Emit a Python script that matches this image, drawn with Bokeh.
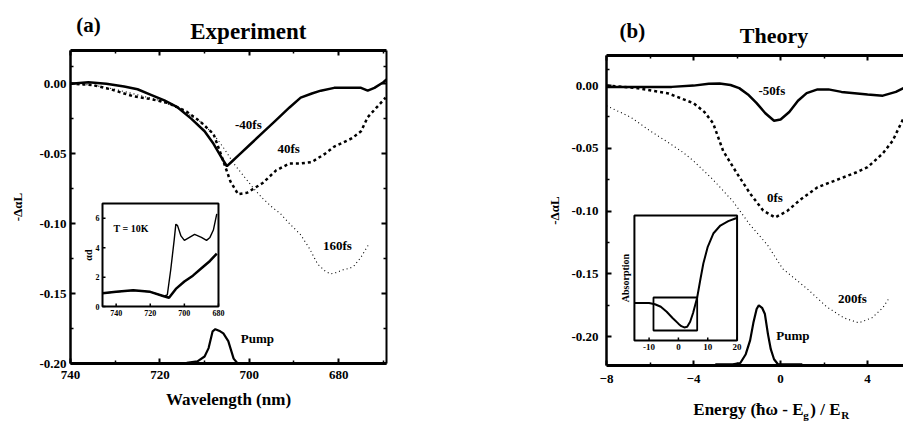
import math
from bokeh.plotting import figure
from bokeh.models import (Range1d, LinearAxis, FixedTicker, Label,
                          PrintfTickFormatter, CustomJSTickFormatter)
from bokeh.layouts import row, column
from bokeh.core.properties import value
from bokeh.embed import file_html
from bokeh.resources import INLINE

FONT = "Liberation Serif"

# ---------------- Panel (a): Experiment ----------------
a_yticks = [0.0, -0.05, -0.10, -0.15, -0.20]
a_yminor = [0.0125, -0.025, -0.075, -0.125, -0.175]
a_xticks = [740, 720, 700, 680]
a_xminor = [730, 710, 690, 670]

wl_m40 = [740, 736, 732, 728, 725, 722, 719, 716, 713, 710, 708, 706, 705, 704, 702, 700,
          697, 694, 691, 688.5, 686, 684, 681, 678, 675, 673.5, 672, 670, 669.3]
val_m40 = [0.000, 0.001, 0.000, -0.002, -0.004, -0.008, -0.012, -0.017, -0.025, -0.034, -0.043,
           -0.054, -0.059, -0.056, -0.050, -0.044, -0.035, -0.026, -0.017, -0.010, -0.007,
           -0.005, -0.003, -0.003, -0.003, -0.005, -0.003, 0.001, 0.003]

wl_40 = [740, 735, 731, 726, 722, 718, 714, 711, 708, 706.4, 704.2, 702.5, 700.5, 699, 697,
         694, 691, 688.5, 686, 683, 681, 679, 677, 675, 673.5, 671.5, 669.5]
val_40 = [0.000, -0.001, -0.004, -0.009, -0.011, -0.014, -0.020, -0.027, -0.036, -0.050, -0.070,
          -0.079, -0.078, -0.075, -0.071, -0.062, -0.057, -0.057, -0.056, -0.050, -0.045, -0.042,
          -0.039, -0.034, -0.024, -0.017, -0.010]

wl_160 = [740, 735, 730, 725, 720, 715, 711, 708, 705.5, 703.5, 701, 699, 697, 695, 693, 691,
          688.5, 686.5, 684.7, 683, 681.8, 680.5, 679, 677.5, 676.5, 675, 673.3]
val_160 = [0.000, -0.001, -0.004, -0.008, -0.012, -0.019, -0.027, -0.036, -0.047, -0.057, -0.067,
           -0.075, -0.082, -0.088, -0.093, -0.100, -0.108, -0.118, -0.129, -0.134, -0.136, -0.135,
           -0.133, -0.132, -0.130, -0.124, -0.115]

pump_a_wl = [722, 714, 711.6, 710, 709.1, 708.2, 707.6, 706.5, 705.8, 704.7, 703.5, 702.6, 698]
pump_a_val = [-0.200, -0.1995, -0.1985, -0.195, -0.189, -0.177, -0.1755, -0.177, -0.1785,
              -0.184, -0.1965, -0.200, -0.200]

a_labels = ["-40fs", "40fs", "160fs", "Pump"]
a_label_x = [700.2, 691.2, 680.3, 698.2]
a_label_y = [-0.029, -0.046, -0.116, -0.182]

# inset (a): absorption spectrum (alpha d vs wavelength)
ia_xlim = (748, 680)
ia_ylim = (0, 7)
ia_xticks = [740, 720, 700, 680]
ia_xtick_labels = ["740", "720", "700", "680"]
ia_yticks = [0, 2, 4, 6]
ia_ytick_labels = ["0", "2", "4", "6"]
ia_wl_hi = [748, 740, 730, 720, 712, 710, 708, 706, 705, 704, 702, 700, 697, 694, 690, 687, 685, 683, 681]
ia_ad_hi = [0.9, 1.0, 1.1, 1.0, 0.7, 0.8, 2.5, 4.5, 5.6, 5.5, 4.8, 4.5, 4.7, 4.9, 4.7, 4.5, 4.7, 5.2, 6.3]
ia_wl_lo = [748, 740, 730, 720, 712, 709, 705, 700, 695, 690, 685, 681]
ia_ad_lo = [0.9, 1.0, 1.1, 1.0, 0.7, 0.6, 1.2, 1.7, 2.1, 2.6, 3.1, 3.6]

# ---------------- Panel (b): Theory ----------------
b_yticks = [0.0, -0.05, -0.10, -0.15, -0.20]
b_yminor = [0.0125, -0.025, -0.075, -0.125, -0.175]
b_xticks = [-8, -4, 0, 4, 8]
b_xminor = [-6, -2, 2, 6]

m50_x = [-8, -7, -6, -5, -4, -3.3, -2.8, -2.3, -1.9, -1.5, -1.1, -0.7, -0.3, 0.0, 0.4, 0.8,
         1.2, 1.7, 2.2, 2.8, 3.4, 4.0, 4.7, 5.3, 5.65]
m50_y = [-0.001, -0.001, -0.001, -0.001, 0.000, 0.0015, 0.0017, 0.0005, -0.002, -0.007, -0.014,
         -0.022, -0.028, -0.027, -0.021, -0.012, -0.006, -0.003, -0.003, -0.005, -0.006, -0.007,
         -0.008, -0.005, -0.002]

zero_x = [-8, -6.6, -5.2, -4.0, -3.5, -3.1, -2.64, -2.0, -1.4, -0.8, -0.25, 0.3, 0.9, 1.7, 2.3,
          2.9, 3.5, 4.0, 4.7, 5.15, 5.65]
zero_y = [0.000, -0.002, -0.006, -0.014, -0.021, -0.030, -0.052, -0.070, -0.086, -0.0995, -0.105,
          -0.100, -0.091, -0.081, -0.077, -0.073, -0.069, -0.065, -0.054, -0.044, -0.026]

t200_x = [-8, -7.4, -6.9, -6.0, -5.1, -4.5, -4.0, -3.1, -2.2, -1.4, -0.6, 0.1, 0.6, 1.3, 2.1,
          2.9, 3.6, 4.2, 4.7, 5.0]
t200_y = [-0.016, -0.021, -0.025, -0.036, -0.046, -0.053, -0.060, -0.075, -0.092, -0.111, -0.127,
          -0.146, -0.153, -0.163, -0.176, -0.185, -0.189, -0.185, -0.177, -0.169]

pump_b_x = [-3.0, -2.2, -1.85, -1.6, -1.4, -1.25, -1.1, -1.0, -0.85, -0.72, -0.58, -0.45, -0.3,
            -0.12, 0.1, 1.0]
pump_b_y = [-0.222, -0.222, -0.221, -0.214, -0.203, -0.189, -0.178, -0.175, -0.177, -0.182,
            -0.198, -0.210, -0.218, -0.222, -0.222, -0.222]

b_labels = ["-50fs", "0fs", "200fs", "Pump"]
b_label_x = [-0.40, -0.26, 3.3, 0.57]
b_label_y = [-0.004, -0.089, -0.170, -0.199]

# inset (b): model absorption
ib_xlim = (-15, 20)
ib_ylim = (0, 1)
ib_xticks = [-10, 0, 10, 20]
ib_xtick_labels = ["-10", "0", "10", "20"]
ib_x = [-15, -12, -10, -8, -6, -4, -2, 0, 1, 2, 3, 4, 5, 6.4, 7.5, 8.5, 10, 11.9, 14.3, 17, 19.4, 20]
ib_y = [0.30, 0.30, 0.30, 0.29, 0.27, 0.23, 0.18, 0.135, 0.115, 0.105, 0.11, 0.15, 0.22, 0.344,
        0.49, 0.616, 0.75, 0.856, 0.92, 0.955, 0.976, 0.98]
ib_box = [-8.5, 6.4, 0.08, 0.344]  # left, right, bottom, top of the zoomed window


def style_axis(ax, ticks, minor, show_labels=True, lw=2.5, size="13px", standoff=6):
    ax.ticker = FixedTicker(ticks=ticks, minor_ticks=minor)
    ax.axis_line_width = lw
    ax.axis_line_color = "black"
    ax.major_tick_in = 5
    ax.major_tick_out = 0
    ax.minor_tick_in = 3
    ax.minor_tick_out = 0
    ax.major_tick_line_width = 2
    ax.minor_tick_line_width = 1.5
    ax.major_label_text_font = FONT
    ax.major_label_text_font_style = "bold"
    ax.major_label_text_font_size = size
    ax.major_label_text_color = "black"
    ax.major_label_standoff = standoff
    ax.axis_label_text_font = FONT
    ax.axis_label_text_font_style = "bold"
    ax.axis_label_text_color = "black"
    if not show_labels:
        ax.formatter = CustomJSTickFormatter(code="return ''")
        ax.major_label_text_font_size = "0px"
        ax.major_label_standoff = 0


def base_fig(xr, yr, w, h, bl, br, bt, bb, axes=True):
    kw = {}
    if not axes:
        kw = dict(x_axis_type=None, y_axis_type=None)
    p = figure(x_range=xr, y_range=yr, width=w, height=h, output_backend="svg",
               toolbar_location=None, min_border_left=bl, min_border_right=br,
               min_border_top=bt, min_border_bottom=bb, **kw)
    p.xgrid.visible = False
    p.ygrid.visible = False
    p.outline_line_color = None
    return p


def add_label(p, x, y, text, size, style="bold", align="center", **kw):
    p.add_layout(Label(x=x, y=y, text=text, text_font=FONT, text_font_size=size,
                       text_font_style=style, text_align=align, text_baseline="middle",
                       text_color="black", **kw))


def gtext(p, x, y, texts, size, style="bold", align="center", baseline="middle", **kw):
    p.text(x=x, y=y, text=texts, text_font=value(FONT), text_font_size=size,
           text_font_style=style, text_align=align, text_baseline=baseline,
           text_color="black", **kw)


def draw_inset(sub, xlim, ylim, wpx, hpx, xticks, xlabels, yticks, ylabels, ylabel, size):
    # frame
    sub.quad(left=[xlim[0]], right=[xlim[1]], bottom=[ylim[0]], top=[ylim[1]],
             fill_alpha=0, line_color="black", line_width=2)
    # inward ticks (3 px)
    dy = (ylim[1] - ylim[0]) * 3.0 / hpx
    dx = (xlim[1] - xlim[0]) * 3.0 / wpx
    sub.segment(x0=xticks, y0=[ylim[0]] * len(xticks), x1=xticks,
                y1=[ylim[0] + dy] * len(xticks), line_color="black", line_width=1.5)
    if yticks:
        sub.segment(x0=[xlim[0]] * len(yticks), y0=yticks, x1=[xlim[0] + dx] * len(yticks),
                    y1=yticks, line_color="black", line_width=1.5)
        gtext(sub, [xlim[0]] * len(yticks), yticks, ylabels, size, align="right", x_offset=-3)
    gtext(sub, xticks, [ylim[0]] * len(xticks), xlabels, size, baseline="top", y_offset=3)
    gtext(sub, [xlim[0]], [(ylim[0] + ylim[1]) / 2], [ylabel], "10px",
          angle=math.pi / 2, x_offset=-14 if yticks else -9)


# ---------- panel (a) ----------
xr_a = Range1d(740, 669.3)
title_a = base_fig(xr_a, Range1d(0, 1), 452, 48, 70, 66, 0, 0, axes=False)
gtext(title_a, [736.0], [0.5], ["(a)"], "21px")
gtext(title_a, [700.2], [0.354], ["Experiment"], "23px")

pa = base_fig(xr_a, Range1d(-0.2, 0.0237), 452, 373, 70, 66, 2, 58)
style_axis(pa.yaxis[0], a_yticks, a_yminor, lw=2.5, standoff=4)
pa.yaxis[0].formatter = PrintfTickFormatter(format="%.2f")
pa.yaxis[0].axis_label = "-ΔαL"
pa.yaxis[0].axis_label_text_font_size = "13px"
pa.yaxis[0].axis_label_standoff = 11
style_axis(pa.xaxis[0], a_xticks, a_xminor, lw=3, standoff=7)
pa.xaxis[0].axis_label = "Wavelength (nm)"
pa.xaxis[0].axis_label_text_font_size = "17px"
pa.xaxis[0].axis_label_standoff = 8
top_a = LinearAxis()
style_axis(top_a, a_xticks, a_xminor, show_labels=False, lw=3)
pa.add_layout(top_a, "above")
right_a = LinearAxis()
style_axis(right_a, a_yticks, a_yminor, show_labels=False, lw=2)
pa.add_layout(right_a, "right")

pa.line(wl_m40, val_m40, line_color="black", line_width=2.5)
pa.line(wl_40, val_40, line_color="black", line_width=2.5, line_dash="3 3")
pa.line(wl_160, val_160, line_color="black", line_width=1.1, line_dash="1 3")
pa.line(pump_a_wl, pump_a_val, line_color="black", line_width=2.2)
for t, x, y in zip(a_labels, a_label_x, a_label_y):
    add_label(pa, x, y, t, "13px")

sub_a = pa.subplot(x_source=Range1d(*ia_xlim), y_source=Range1d(*ia_ylim),
                   x_target=Range1d(732.84, 706.89), y_target=Range1d(-0.1593, -0.0857))
draw_inset(sub_a, ia_xlim, ia_ylim, 116, 103, ia_xticks, ia_xtick_labels,
           ia_yticks, ia_ytick_labels, "αd", "8px")
sub_a.line(ia_wl_hi, ia_ad_hi, line_color="black", line_width=1.4)
sub_a.line(ia_wl_lo, ia_ad_lo, line_color="black", line_width=2.5)
gtext(sub_a, [741.5], [5.3], ["T = 10K"], "10px", align="left")

# ---------- panel (b) ----------
xr_b = Range1d(-8, 5.65)
title_b = base_fig(xr_b, Range1d(0, 1), 451, 50, 154, 0, 0, 0, axes=False)
gtext(title_b, [-6.81], [0.4], ["(b)"], "21px")
gtext(title_b, [-0.30], [0.3], ["Theory"], "22px")

pb = base_fig(xr_b, Range1d(-0.223, 0.024), 451, 345, 154, 0, 5, 30)
style_axis(pb.yaxis[0], b_yticks, b_yminor, lw=2.5, standoff=8)
pb.yaxis[0].formatter = PrintfTickFormatter(format="%.2f")
pb.yaxis[0].axis_label = "-ΔαL"
pb.yaxis[0].axis_label_text_font_size = "13px"
pb.yaxis[0].axis_label_standoff = 6
style_axis(pb.xaxis[0], b_xticks, b_xminor, lw=3, standoff=9)
top_b = LinearAxis()
style_axis(top_b, b_xticks, b_xminor, show_labels=False, lw=3)
pb.add_layout(top_b, "above")

pb.line(m50_x, m50_y, line_color="black", line_width=2.5)
pb.line(zero_x, zero_y, line_color="black", line_width=2.5, line_dash="3 3")
pb.line(t200_x, t200_y, line_color="black", line_width=1.1, line_dash="1 3")
pb.line(pump_b_x, pump_b_y, line_color="black", line_width=2.2)
for t, x, y in zip(b_labels, b_label_x, b_label_y):
    add_label(pb, x, y, t, "13px")

sub_b = pb.subplot(x_source=Range1d(*ib_xlim), y_source=Range1d(*ib_ylim),
                   x_target=Range1d(-6.717, -1.999), y_target=Range1d(-0.2031, -0.1035))
draw_inset(sub_b, ib_xlim, ib_ylim, 103, 125, ib_xticks, ib_xtick_labels,
           [], [], "Absorption", "9px")
sub_b.quad(left=[ib_box[0]], right=[ib_box[1]], bottom=[ib_box[2]], top=[ib_box[3]],
           fill_alpha=0, line_color="black", line_width=1.8)
sub_b.line(ib_x, ib_y, line_color="black", line_width=2)

# x-axis title of panel (b), with subscripts
xlab_b = base_fig(xr_b, Range1d(0, 1), 451, 26, 154, 0, 0, 0, axes=False)
gtext(xlab_b, [-4.01], [0.45], ["Energy (ħω - E"], "17px", align="left")
gtext(xlab_b, [-4.01], [0.45], ["g"], "11px", align="left", x_offset=110, y_offset=5)
gtext(xlab_b, [-4.01], [0.45], [") / E"], "17px", align="left", x_offset=117)
gtext(xlab_b, [-4.01], [0.45], ["R"], "11px", align="left", x_offset=148, y_offset=5)

layout = row(column(title_a, pa), column(title_b, pb, xlab_b))
open("out.html", "w").write(file_html(layout, INLINE))
